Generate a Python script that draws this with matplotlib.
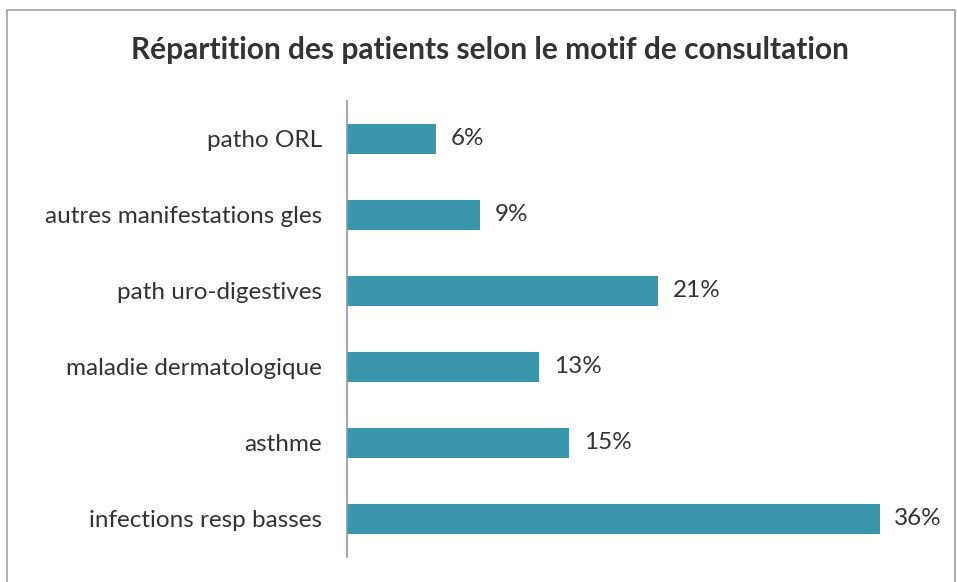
import matplotlib
matplotlib.use("Agg")
import matplotlib.pyplot as plt
from matplotlib.patches import Rectangle

categories = ["infections resp basses", "asthme", "maladie dermatologique",
              "path uro-digestives", "autres manifestations gles", "patho ORL"]
values = [36, 15, 13, 21, 9, 6]
labels = ["36%", "15%", "13%", "21%", "9%", "6%"]
title = "Répartition des patients selon le motif de consultation"

plt.rcParams['font.family'] = ['Lato', 'DejaVu Sans']
fig = plt.figure(figsize=(9.57, 5.82), dpi=100)
ax = fig.add_axes([0.3626, 0.043, 0.6184, 0.7835])

txt = "#333333"
ax.barh(range(len(categories)), values, height=0.39, color="#3a97ab")
for i, (v, l) in enumerate(zip(values, labels)):
    ax.text(v + 1.0, i, l, va="center", ha="left", fontsize=17.5, color=txt)

ax.set_yticks(range(len(categories)))
ax.set_yticklabels(categories, fontsize=17.5, color=txt)
ax.tick_params(axis="y", length=0, pad=18)
ax.set_xticks([])
ax.set_xlim(0, 40)
ax.set_ylim(-0.5, 5.5)
for s in ["top", "right", "bottom"]:
    ax.spines[s].set_visible(False)
ax.spines["left"].set_color("#8a9aaa")
ax.spines["left"].set_linewidth(1.2)

fig.text(0.512, 1 - 50 / 582, title, ha="center", va="center",
         fontsize=21.5, fontweight="bold", color=txt)

fig.patches.append(Rectangle((7 / 957, -0.05), 948 / 957, 1 - 10 / 582 + 0.05,
                             transform=fig.transFigure, fill=False,
                             edgecolor="#a0a0a0", linewidth=1.2))

fig.savefig("out.png", dpi=100)
